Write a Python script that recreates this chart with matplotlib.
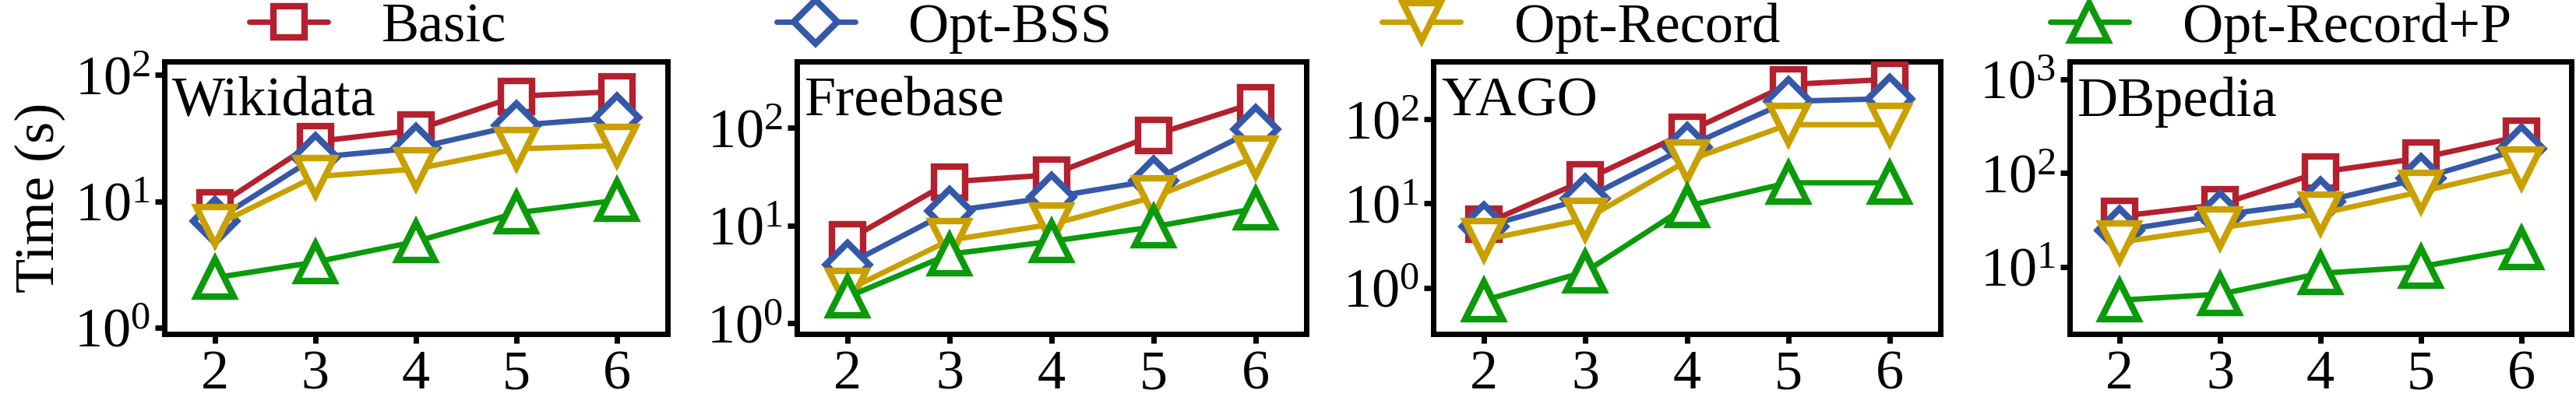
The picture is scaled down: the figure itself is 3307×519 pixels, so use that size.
import numpy as np
import matplotlib
matplotlib.use('Agg')
import matplotlib.pyplot as plt
from matplotlib.ticker import LogLocator, NullLocator, LogFormatterMathtext

plt.rcParams['font.family'] = ['Liberation Serif', 'DejaVu Serif']
plt.rcParams['mathtext.fontset'] = 'custom'
plt.rcParams['mathtext.rm'] = 'Liberation Serif'
plt.rcParams['mathtext.it'] = 'Liberation Serif:italic'
plt.rcParams['font.size'] = 52
plt.rcParams['lines.solid_capstyle'] = 'round'

# データ
hops = [2, 3, 4, 5, 6]
datasets = ['Wikidata', 'Freebase', 'YAGO', 'DBpedia']
methods = ['Basic', 'Opt-BSS', 'Opt-Record', 'Opt-Record+P']

basic = [[8.9, 29.7, 36.7, 68, 74],
         [7.1, 28, 33, 84, 180],
         [5.7, 19, 70, 258, 297],
         [34.5, 46, 102, 144, 247]]
opt_bss = [[7.0, 22.3, 26.4, 40, 46],
           [4.0, 14, 19.5, 29, 96],
           [5.3, 11.5, 47, 163, 175],
           [24.3, 35.6, 49, 87, 180]]
opt_record = [[6.4, 15.7, 18, 26, 27.6],
              [2.2, 7.1, 10.3, 19.5, 50],
              [3.7, 6.5, 32, 86, 86],
              [18.3, 26, 36.8, 63, 112]]
opt_record_p = [[2.48, 3.3, 4.8, 8.1, 10.2],
                [1.87, 5.1, 6.9, 9.7, 14.9],
                [0.71, 1.55, 9.3, 17.6, 17.6],
                [4.4, 5.1, 8.5, 10, 15.6]]

ylims = [(0.89, 128), (0.78, 475), (0.284, 483), (1.92, 1540)]

colors = ['#B5202E', '#3658A8', '#C9A000', '#0A9A0A']
markers = ['s', 'D', 'v', '^']
msizes = [29, 29, 34, 34]
series = [basic, opt_bss, opt_record, opt_record_p]

W, H = 3307, 519
fig = plt.figure(figsize=(W / 100, H / 100), dpi=100)

# 各パネルの位置（ピクセル）
lefts = [211, 1023, 1840, 2657]
widths = [646, 654, 651, 644]
top, bottom = 79, 429

handles = []
for i, name in enumerate(datasets):
    ax = fig.add_axes([lefts[i] / W, 1 - bottom / H, widths[i] / W, (bottom - top) / H])
    for k in range(4):
        l, = ax.plot(hops, series[k][i], color=colors[k], marker=markers[k],
                     markersize=msizes[k], markerfacecolor='white',
                     markeredgewidth=6, linewidth=5, label=methods[k],
                     zorder=3 + k)
        if i == 0:
            handles.append(l)
    ax.set_yscale('log')
    ax.set_ylim(*ylims[i])
    ax.set_xlim(1.5, 6.5)
    ax.set_xticks(hops)
    ax.yaxis.set_major_locator(LogLocator(base=10, numticks=10))
    ax.yaxis.set_major_formatter(LogFormatterMathtext())
    ax.yaxis.set_minor_locator(NullLocator())
    ax.tick_params(axis='both', direction='out', length=8.6, width=5, labelsize=52)
    ax.tick_params(axis='x', pad=6)
    ax.tick_params(axis='y', pad=4)
    for sp in ax.spines.values():
        sp.set_linewidth(5)
    ax.text(0.015, 0.945, name, transform=ax.transAxes, ha='left', va='top', fontsize=52)
    if i == 0:
        ax.set_ylabel('Time (s)', fontsize=52)
        ax.yaxis.set_label_coords(-0.197, 0.5)

fig.legend(handles, methods, loc='center left', bbox_to_anchor=(320 / W, 1 - 36 / H),
           ncol=4, frameon=False, handlelength=1.4, handletextpad=0.95,
           columnspacing=4.8, borderpad=0, borderaxespad=0, fontsize=52)

plt.savefig('out.png', dpi=100)
